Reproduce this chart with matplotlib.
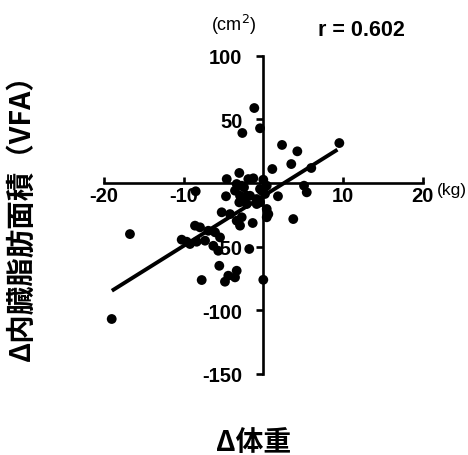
import numpy as np
import matplotlib
matplotlib.use("Agg")
from matplotlib import pyplot as plt

plt.rcParams['font.family'] = ['Liberation Sans', 'Noto Sans CJK JP', 'DejaVu Sans']
plt.rcParams['axes.unicode_minus'] = False

# weight change (kg) vs visceral fat area change (cm2)
d_weight = [-1.13, -0.41, -2.63, 2.35, 4.27, 9.54, 3.51, 1.13, 6.02, -3.01,
            -4.59, -1.25, 0.0, -8.48, -4.68, 1.84, 5.11, 5.45, 3.76, -3.34,
            -2.42, -2.92, -2.08, -0.83, -0.2, 0.43, -3.01, -2.08, -0.41, 0.43,
            0.63, 0.43, -5.22, -4.18, -2.71, -3.34, -2.92, -1.33, -8.57, -7.94,
            -6.9, -6.06, -5.43, -10.24, -9.61, -9.2, -8.36, -7.31, -6.27, -5.65,
            -1.76, -16.73, -5.52, -4.39, -3.34, -4.81, -3.55, -7.73, 0.0, -19.02,
            -1.88, -2.71, -3.55, -1.67, -0.41, 0.21, -2.71, -0.83]
d_vfa = [58.9, 43.0, 39.3, 29.9, 24.9, 31.4, 14.9, 11.0, 11.8, 7.9,
         3.1, 3.7, 2.6, -6.5, -10.4, -10.4, -2.1, -7.3, -28.3, -0.8,
         -3.4, -10.0, -10.0, -12.6, -6.0, -2.1, -15.2, -16.5, -15.2, -20.4,
         -24.4, -26.9, -23.0, -24.4, -26.9, -29.6, -33.5, -31.4, -33.5, -34.8,
         -37.5, -38.7, -42.7, -44.5, -46.1, -47.9, -46.1, -45.3, -49.3, -53.2,
         -51.8, -40.1, -65.0, -72.8, -68.9, -77.5, -74.1, -76.2, -76.0, -106.8,
         3.1, -2.1, -6.0, -10.0, -4.7, -8.6, -12.6, -16.5]

# regression line ends
fit_x = [-19.0, 9.3]
fit_y = [-84.6, 26.2]

xticks = [-20, -10, 10, 20]
yticks = [-150, -100, -50, 50, 100]

W, H = 468, 456
fig = plt.figure(figsize=(W / 100, H / 100), dpi=100)
ax = fig.add_axes([103.9 / W, 1 - 375 / H, 318.8 / W, 318.3 / H])

ax.scatter(d_weight, d_vfa, s=50, color='black', edgecolors='none', clip_on=False, zorder=3)
ax.plot(fit_x, fit_y, color='black', lw=2.8, solid_capstyle='butt', zorder=2)

ax.set_xlim(-20, 20)
ax.set_ylim(-150, 100)
ax.spines['left'].set_position(('data', 0))
ax.spines['bottom'].set_position(('data', 0))
ax.spines['top'].set_visible(False)
ax.spines['right'].set_visible(False)
for s in ['left', 'bottom']:
    ax.spines[s].set_linewidth(1.9)
ax.spines['left'].set_bounds(-150, 100)
ax.spines['bottom'].set_bounds(-20, 20)

ax.set_xticks(xticks)
ax.set_yticks(yticks)
ax.set_xticklabels([str(v) for v in xticks], fontsize=14.5, fontweight='bold')
ax.set_yticklabels([str(v) for v in yticks], fontsize=14.5, fontweight='bold')
ax.tick_params(axis='x', direction='in', length=4, width=1.9, pad=2)
ax.tick_params(axis='y', direction='out', length=5, width=1.9, pad=10)

fig.text(234 / W, 1 - 25 / H, '(cm$^2$)', fontsize=13, ha='center', va='center')
fig.text(361 / W, 1 - 31 / H, 'r = 0.602', fontsize=15.5, fontweight='bold',
         ha='center', va='center')
fig.text(452 / W, 1 - 191 / H, '(kg)', fontsize=12.5, ha='center', va='center')
fig.text(22 / W, 1 - 211 / H, 'Δ内臓脂肪面積（VFA）', fontsize=20.5, fontweight='bold',
         rotation=90, ha='center', va='center',
         family=['Noto Sans CJK JP', 'DejaVu Sans'])
fig.text(254 / W, 1 - 443 / H, 'Δ体重', fontsize=20, fontweight='bold',
         ha='center', va='center', family=['Noto Sans CJK JP', 'DejaVu Sans'])

fig.savefig('out.png', dpi=100)
